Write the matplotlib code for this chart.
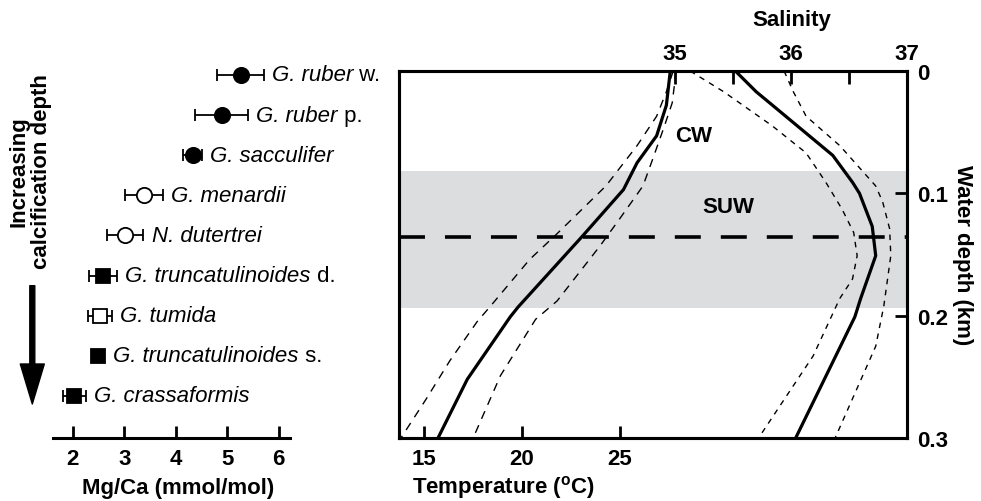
import matplotlib
matplotlib.use('Agg')
import matplotlib.pyplot as plt

# Mg/Ca de cada especie (de arriba a abajo)
species = ['G. ruber', 'G. ruber', 'G. sacculifer', 'G. menardii', 'N. dutertrei',
           'G. truncatulinoides', 'G. tumida', 'G. truncatulinoides', 'G. crassaformis']
species_suffix = [' w.', ' p.', '', '', '', ' d.', '', ' s.', '']
mgca = [5.26, 4.89, 4.33, 3.38, 3.02, 2.59, 2.53, 2.50, 2.03]
mgca_err = [0.45, 0.51, 0.18, 0.37, 0.35, 0.27, 0.23, 0.0, 0.22]
marker = ['o', 'o', 'o', 'o', 'o', 's', 's', 's', 's']
filled = [True, True, True, False, False, True, False, True, True]

# perfiles de temperatura (media y limites)
temp_mean_depth = [0, 0.028, 0.053, 0.075, 0.097, 0.135, 0.193, 0.201, 0.252, 0.3]
temp_mean = [27.6, 27.4, 26.9, 25.9, 25.2, 23.1, 19.8, 19.4, 17.2, 15.7]
temp_warm_depth = [0, 0.026, 0.045, 0.072, 0.094, 0.121, 0.143, 0.188, 0.203, 0.249, 0.3]
temp_warm = [27.9, 27.7, 27.3, 26.7, 26.2, 25.0, 24.0, 21.8, 20.7, 18.9, 17.5]
temp_cool_depth = [0, 0.017, 0.037, 0.061, 0.094, 0.133, 0.154, 0.192, 0.205, 0.237, 0.268, 0.3]
temp_cool = [27.75, 27.4, 26.9, 25.9, 24.3, 21.8, 20.4, 18.4, 17.7, 16.3, 15.1, 13.8]

# perfiles de salinidad
sal_mean_depth = [0, 0.017, 0.028, 0.069, 0.091, 0.1, 0.127, 0.151, 0.186, 0.201, 0.3]
sal_mean = [35.52, 35.70, 35.84, 36.36, 36.53, 36.59, 36.70, 36.73, 36.60, 36.55, 36.04]
sal_high_depth = [0, 0.017, 0.037, 0.061, 0.094, 0.107, 0.129, 0.151, 0.192, 0.225, 0.3]
sal_high = [35.94, 36.02, 36.13, 36.42, 36.73, 36.79, 36.85, 36.86, 36.80, 36.73, 36.38]
sal_low_depth = [0, 0.017, 0.045, 0.067, 0.091, 0.113, 0.132, 0.151, 0.17, 0.186, 0.233, 0.3]
sal_low = [35.13, 35.42, 35.84, 36.13, 36.30, 36.44, 36.54, 36.57, 36.53, 36.42, 36.19, 35.72]

suw_top, suw_bottom = 0.082, 0.194
chl_depth = 0.136

plt.rcParams['font.family'] = ['Liberation Sans', 'DejaVu Sans']
plt.rcParams['axes.labelweight'] = 'bold'
plt.rcParams['mathtext.fontset'] = 'custom'
plt.rcParams['mathtext.rm'] = 'Liberation Sans'
plt.rcParams['mathtext.bf'] = 'Liberation Sans:bold'
plt.rcParams['lines.scale_dashes'] = False


def bold_ticks(a):
    for t in a.get_xticklabels() + a.get_yticklabels():
        t.set_fontweight('bold')


fig = plt.figure(figsize=(9.81, 5.02), dpi=100)

# ---- panel izquierdo: Mg/Ca ----
axl = fig.add_axes([0.054, 0.1255, 0.2416, 0.755])
for i in range(len(species)):
    fc = 'k' if filled[i] else 'w'
    ms = 11 if marker[i] == 'o' else 9.5
    axl.errorbar(mgca[i], i, xerr=mgca_err[i], fmt=marker[i], ms=ms, mfc=fc, mec='k', mew=1.3,
                 ecolor='k', elinewidth=1.3, capsize=4, capthick=1.3)
    name = axl.annotate(species[i], xy=(mgca[i] + max(mgca_err[i], 0.13), i), xytext=(6, 0),
                        textcoords='offset points', ha='left', va='center', fontsize=16, style='italic')
    # sufijo en letra normal pegado al nombre
    if species_suffix[i]:
        axl.annotate(species_suffix[i], xy=(1, 0), xycoords=name, ha='left', va='bottom', fontsize=16)

axl.set_xlim(1.617, 6.219)
axl.set_ylim(9.052, -0.399)
for s in ['left', 'top', 'right']:
    axl.spines[s].set_visible(False)
axl.spines['bottom'].set_linewidth(2.2)
axl.set_yticks([])
axl.set_xticks([2, 3, 4, 5, 6])
axl.tick_params(axis='x', direction='in', length=9, width=2, labelsize=16, pad=7)
bold_ticks(axl)
axl.set_xlabel('Mg/Ca (mmol/mol)', fontsize=16)
axl.xaxis.set_label_coords(0.527, -0.13)
axl.xaxis.label.set_va('center')

fig.text(30 / 981, 1 - 172 / 502, 'Increasing\ncalcification depth', rotation=90, ha='center',
         va='center', fontsize=16, fontweight='bold', linespacing=1.12, multialignment='center')
# flecha hacia abajo
fig.add_artist(plt.Annotation('', xy=(32.3, 502 - 405), xytext=(32.3, 502 - 286.7), xycoords='figure pixels',
                              arrowprops=dict(arrowstyle='simple,head_length=28.8,head_width=17.3,tail_width=3.6',
                                              mutation_scale=1, color='k', shrinkA=0, shrinkB=0)))

# ---- panel derecho: temperatura y salinidad ----
ax = fig.add_axes([0.4067, 0.1255, 0.5179, 0.7311])
ax.set_xlim(13.7, 39.73)
ax.set_ylim(0.3, 0)
ax.axhspan(suw_top, suw_bottom, color='#dcdddf', lw=0, zorder=0)
ax.axhline(chl_depth, color='k', lw=2.6, dashes=(18.7, 14.4))
ax.plot(temp_mean, temp_mean_depth, 'k', lw=2.3)
ax.plot(temp_warm, temp_warm_depth, 'k', lw=1.0, dashes=(6, 5))
ax.plot(temp_cool, temp_cool_depth, 'k', lw=1.0, dashes=(6, 5))
ax.text(28.8, 0.053, 'CW', ha='center', va='center', fontsize=16, fontweight='bold')
ax.text(30.6, 0.111, 'SUW', ha='center', va='center', fontsize=16, fontweight='bold')

ax.set_xticks([15, 20, 25])
ax.tick_params(axis='x', direction='in', length=9, width=2, labelsize=16, pad=7)
ax.yaxis.tick_right()
ax.yaxis.set_label_position('right')
ax.set_yticks([0, 0.1, 0.2, 0.3])
ax.set_yticklabels(['0', '0.1', '0.2', '0.3'])
ax.tick_params(axis='y', direction='in', length=9, width=2, labelsize=16, pad=7)
bold_ticks(ax)
ax.set_xlabel(r'Temperature ($^{\mathbf{o}}$C)', fontsize=16)
ax.xaxis.set_label_coords(0.205, -0.133)
ax.xaxis.label.set_va('center')
ax.set_ylabel('Water depth (km)', fontsize=16, rotation=270)
ax.yaxis.set_label_coords(1.11, 0.5)
ax.yaxis.label.set_va('center')

ax2 = ax.twiny()
ax2.set_xlim(32.62, 37.0)
ax2.plot(sal_mean, sal_mean_depth, 'k', lw=2.3)
ax2.plot(sal_high, sal_high_depth, 'k', lw=1.0, dashes=(4, 4))
ax2.plot(sal_low, sal_low_depth, 'k', lw=1.0, dashes=(4, 4))
ax2.set_xticks([35, 35.5, 36, 36.5, 37])
ax2.set_xticklabels(['35', '', '36', '', '37'])
ax2.tick_params(axis='x', direction='in', length=9, width=2, labelsize=16, pad=5)
bold_ticks(ax2)
ax2.set_xlabel('Salinity', fontsize=16)
ax2.xaxis.set_label_coords(0.773, 1.14)
ax2.xaxis.label.set_va('center')

for a in [ax, ax2]:
    for s in a.spines.values():
        s.set_linewidth(2.2)

fig.savefig('out.png', dpi=100)
